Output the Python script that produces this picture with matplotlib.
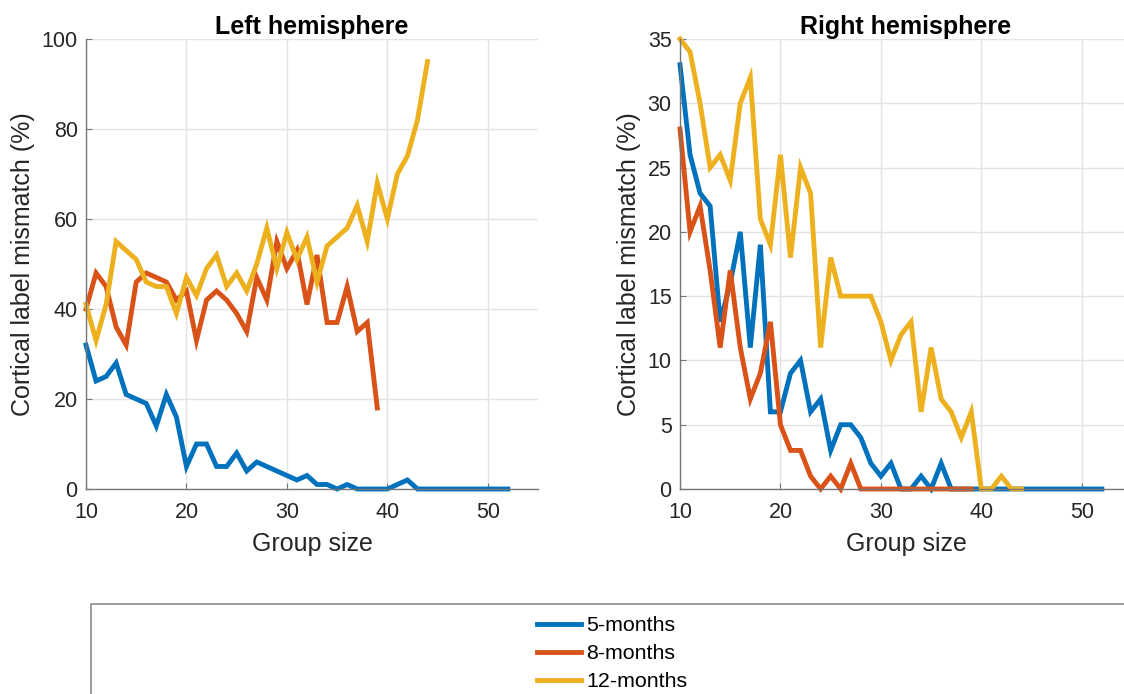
import numpy as np
import matplotlib
matplotlib.use("Agg")
import matplotlib.pyplot as plt
from matplotlib.patches import Rectangle

plt.rcParams["font.family"] = ["Liberation Sans", "DejaVu Sans"]

# group sizes (x) per series
x_5m = np.arange(10, 53)
x_8m = np.arange(10, 40)
x_12m = np.arange(10, 45)

# left hemisphere mismatch (%)
left_5m = [32, 24, 25, 28, 21, 20, 19, 14, 21, 16,
           5, 10, 10, 5, 5, 8, 4, 6, 5, 4,
           3, 2, 3, 1, 1, 0, 1, 0, 0, 0,
           0, 1, 2, 0, 0, 0, 0, 0, 0, 0, 0, 0, 0]
left_8m = [40, 48, 45, 36, 32, 46, 48, 47, 46, 42,
           44, 33, 42, 44, 42, 39, 35, 47, 42, 55,
           49, 53, 41, 52, 37, 37, 45, 35, 37, 18]
left_12m = [41, 33, 41, 55, 53, 51, 46, 45, 45, 39,
            47, 43, 49, 52, 45, 48, 44, 50, 58, 49,
            57, 51, 56, 46, 54, 56, 58, 63, 55, 68,
            60, 70, 74, 82, 95]

# right hemisphere mismatch (%)
right_5m = [33, 26, 23, 22, 13, 16, 20, 11, 19, 6,
            6, 9, 10, 6, 7, 3, 5, 5, 4, 2,
            1, 2, 0, 0, 1, 0, 2, 0, 0, 0,
            0, 0, 0, 0, 0, 0, 0, 0, 0, 0, 0, 0, 0]
right_8m = [28, 20, 22, 17, 11, 17, 11, 7, 9, 13,
            5, 3, 3, 1, 0, 1, 0, 2, 0, 0,
            0, 0, 0, 0, 0, 0, 0, 0, 0, 0]
right_12m = [35, 34, 30, 25, 26, 24, 30, 32, 21, 19,
             26, 18, 25, 23, 11, 18, 15, 15, 15, 15,
             13, 10, 12, 13, 6, 11, 7, 6, 4, 6,
             0, 0, 1, 0, 0]

labels = ["5-months", "8-months", "12-months"]
colors = ["#0072BD", "#D95319", "#EDB120"]

W, H = 1124, 694
fig = plt.figure(figsize=(W / 100, H / 100), dpi=100)


def setup_axes(ax, title, ylim, yticks):
    ax.set_xlim(10, 55)
    ax.set_ylim(*ylim)
    ax.set_xticks([10, 20, 30, 40, 50])
    ax.set_yticks(yticks)
    ax.grid(True, color="#e3e3e3", linewidth=1)
    ax.set_axisbelow(True)
    for s in ["top", "right"]:
        ax.spines[s].set_visible(False)
    for s in ["left", "bottom"]:
        ax.spines[s].set_color("#777777")
        ax.spines[s].set_linewidth(1.0)
    ax.tick_params(direction="in", length=4, width=0.8, color="#777777",
                   labelsize=15.5, labelcolor="#262626", pad=6)
    ax.tick_params(axis="x", pad=9)
    ax.set_xlabel("Group size", fontsize=18, color="#262626", labelpad=7)
    ax.set_ylabel("Cortical label mismatch (%)", fontsize=18, color="#262626", labelpad=5)
    ax.set_title(title, fontsize=18, fontweight="bold", pad=3)


ax1 = fig.add_axes([86 / W, 1 - 489 / H, 452 / W, 450 / H])
ax2 = fig.add_axes([680 / W, 1 - 489 / H, 452 / W, 450 / H])

lw = 3.5
for ax, data in [(ax1, (left_5m, left_8m, left_12m)), (ax2, (right_5m, right_8m, right_12m))]:
    for xs, ys, c, lab in zip((x_5m, x_8m, x_12m), data, colors, labels):
        ax.plot(xs, ys, color=c, linewidth=lw, label=lab, solid_joinstyle="miter",
                clip_on=False)

setup_axes(ax1, "Left hemisphere", (0, 100), [0, 20, 40, 60, 80, 100])
setup_axes(ax2, "Right hemisphere", (0, 35), [0, 5, 10, 15, 20, 25, 30, 35])

# legend box (cut by figure edge like in the original)
fig.patches.append(Rectangle((91 / W, -0.1), 1.0, 0.1 + 1 - 604 / H,
                             transform=fig.transFigure, fill=False,
                             edgecolor="#8a8a8a", linewidth=1.2))

handles, labs = ax1.get_legend_handles_labels()
fig.legend(handles, labs, loc="upper left", bbox_to_anchor=(537 / W, 1 - 616 / H),
           frameon=False, fontsize=15.4, handlelength=2.05, handletextpad=0.25,
           labelspacing=0.43, borderpad=0, borderaxespad=0)

fig.savefig("out.png", dpi=100)
